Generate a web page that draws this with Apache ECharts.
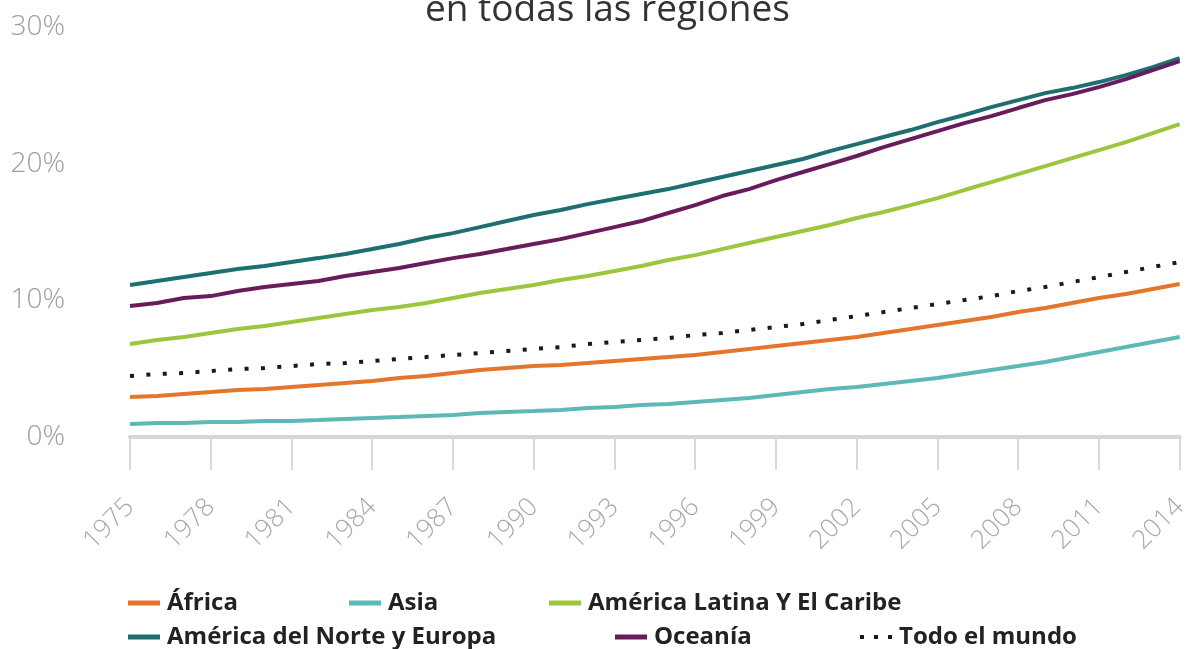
<!DOCTYPE html>
<html>
<head>
<meta charset="utf-8">
<script src="https://cdn.jsdelivr.net/npm/echarts@6/dist/echarts.min.js"></script>
<style>
  html, body { margin: 0; padding: 0; background: #fff; }
  #chart { width: 1191px; height: 649px; }
</style>
</head>
<body>
<div id="chart"></div>
<script>
// years 1975 - 2014
var years = [];
for (var y = 1975; y <= 2014; y++) { years.push(String(y)); }

var africa = [2.93, 3.00, 3.15, 3.29, 3.44, 3.51, 3.66, 3.80, 3.95, 4.10,
  4.32, 4.46, 4.68, 4.90, 5.05, 5.19, 5.27, 5.41, 5.56, 5.71,
  5.85, 6.00, 6.22, 6.44, 6.66, 6.88, 7.10, 7.32, 7.61, 7.90,
  8.19, 8.49, 8.78, 9.14, 9.44, 9.80, 10.17, 10.46, 10.83, 11.19];

var asia = [0.95, 1.02, 1.02, 1.10, 1.10, 1.17, 1.17, 1.24, 1.32, 1.39,
  1.46, 1.54, 1.61, 1.76, 1.83, 1.90, 1.98, 2.12, 2.19, 2.34,
  2.41, 2.56, 2.71, 2.85, 3.07, 3.29, 3.51, 3.66, 3.88, 4.10,
  4.32, 4.61, 4.90, 5.19, 5.49, 5.85, 6.22, 6.58, 6.95, 7.32];

var latam = [6.80, 7.10, 7.32, 7.61, 7.90, 8.12, 8.41, 8.71, 9.00, 9.29,
  9.51, 9.80, 10.17, 10.53, 10.83, 11.12, 11.49, 11.78, 12.14, 12.51,
  12.95, 13.31, 13.75, 14.19, 14.63, 15.07, 15.51, 16.02, 16.46, 16.97,
  17.48, 18.07, 18.65, 19.24, 19.82, 20.41, 20.99, 21.58, 22.24, 22.90];

var norteEuropa = [11.12, 11.41, 11.70, 12.00, 12.29, 12.51, 12.80, 13.09, 13.39, 13.75,
  14.12, 14.56, 14.92, 15.36, 15.80, 16.24, 16.61, 17.04, 17.41, 17.78,
  18.14, 18.58, 19.02, 19.46, 19.90, 20.34, 20.92, 21.43, 21.95, 22.46,
  23.04, 23.56, 24.14, 24.65, 25.16, 25.53, 25.97, 26.48, 27.07, 27.73];

var oceania = [9.58, 9.80, 10.17, 10.31, 10.68, 10.97, 11.19, 11.41, 11.78, 12.07,
  12.36, 12.73, 13.09, 13.39, 13.75, 14.12, 14.48, 14.92, 15.36, 15.80,
  16.39, 16.97, 17.63, 18.14, 18.80, 19.39, 19.97, 20.56, 21.21, 21.80,
  22.38, 22.97, 23.48, 24.07, 24.65, 25.09, 25.60, 26.19, 26.85, 27.51];

var mundo = [4.46, 4.61, 4.68, 4.83, 4.97, 5.05, 5.19, 5.34, 5.41, 5.56,
  5.71, 5.85, 6.00, 6.14, 6.29, 6.44, 6.58, 6.80, 6.95, 7.10,
  7.24, 7.46, 7.61, 7.83, 8.05, 8.27, 8.56, 8.85, 9.14, 9.44,
  9.73, 10.02, 10.31, 10.68, 10.97, 11.34, 11.70, 12.07, 12.44, 12.80];

var names = ['África', 'Asia', 'América Latina Y El Caribe', 'América del Norte y Europa', 'Oceanía', 'Todo el mundo'];
var colors = ['#e3762b', '#5cb9b5', '#9cc63e', '#1f6e70', '#681c5b', '#1a1a1a'];
var values = [africa, asia, latam, norteEuropa, oceania, mundo];

var chart = echarts.init(document.getElementById('chart'));

var legendPos = [
  {left: 123, top: 586},
  {left: 344, top: 586},
  {left: 544, top: 586},
  {left: 123, top: 620},
  {left: 610, top: 620},
  {left: 855, top: 620}
];

var legends = names.map(function (n, i) {
  var dotted = i === 5;
  return {
    data: [n],
    left: legendPos[i].left,
    top: legendPos[i].top,
    orient: 'horizontal',
    selectedMode: false,
    icon: dotted ? 'path://M0,0h4v4h-4zM14,0h4v4h-4zM28,0h4v4h-4z' : 'rect',
    itemWidth: 32,
    itemHeight: dotted ? 4 : 5,
    textStyle: {
      fontFamily: 'Open Sans',
      fontWeight: 'bold',
      fontSize: 24,
      color: '#222',
      padding: [0, 0, 0, 2]
    }
  };
});

var series = names.map(function (n, i) {
  var dotted = i === 5;
  return {
    name: n,
    type: 'line',
    data: values[i],
    symbol: 'none',
    smooth: false,
    color: colors[i],
    lineStyle: {
      color: colors[i],
      width: 4,
      type: dotted ? [4, 12.4] : 'solid',
      cap: 'butt'
    },
    z: dotted ? 3 : 2
  };
});

var option = {
  animation: false,
  backgroundColor: '#fff',
  title: {
    text: 'en todas las regiones',
    left: 420,
    top: -13,
    textStyle: {
      fontFamily: 'Open Sans',
      fontWeight: 'normal',
      fontSize: 37,
      color: '#333'
    }
  },
  legend: legends,
  grid: {
    left: 130,
    right: 5,
    top: 27,
    bottom: 212,
    containLabel: false
  },
  xAxis: {
    type: 'category',
    data: years,
    boundaryGap: false,
    axisLine: { lineStyle: { color: '#d6d6d6', width: 4 } },
    axisTick: {
      interval: 2,
      length: 33,
      lineStyle: { color: '#d9d9d9', width: 2 }
    },
    axisLabel: {
      interval: 2,
      rotate: 45,
      margin: 66,
      fontFamily: 'Open Sans',
      fontWeight: 300,
      fontSize: 26,
      color: '#a8a8a8'
    },
    splitLine: { show: false }
  },
  yAxis: {
    type: 'value',
    min: 0,
    max: 30,
    interval: 10,
    axisLine: { show: false },
    axisTick: { show: false },
    splitLine: { show: false },
    axisLabel: {
      formatter: '{value}%',
      margin: 65,
      fontFamily: 'Open Sans',
      fontWeight: 300,
      fontSize: 28,
      color: '#9d9d9d'
    }
  },
  series: series
};

chart.setOption(option);
window.addEventListener('resize', function () {
  chart.resize();
});
</script>
</body>
</html>
